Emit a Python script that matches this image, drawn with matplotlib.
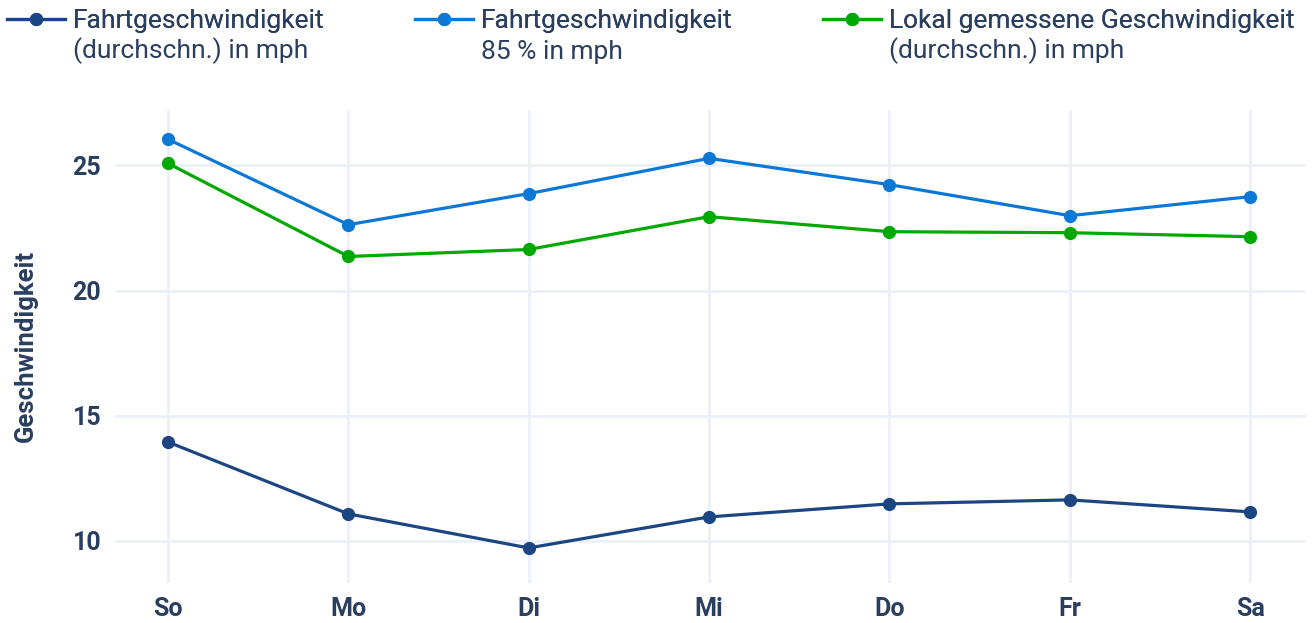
import matplotlib
matplotlib.use("Agg")
import matplotlib.pyplot as plt

plt.rcParams["font.family"] = ["Roboto", "DejaVu Sans"]

# === DATEN ===
tage = ["So", "Mo", "Di", "Mi", "Do", "Fr", "Sa"]
fahrt_durchschn = [13.95, 11.08, 9.72, 10.96, 11.48, 11.64, 11.16]
fahrt_85 = [26.04, 22.63, 23.87, 25.28, 24.23, 22.99, 23.75]
lokal_durchschn = [25.08, 21.36, 21.64, 22.95, 22.35, 22.31, 22.15]

serien = [
    (["Fahrtgeschwindigkeit", "(durchschn.) in mph"], fahrt_durchschn, "#1c4682"),
    (["Fahrtgeschwindigkeit", "85 % in mph"], fahrt_85, "#0b78d6"),
    (["Lokal gemessene Geschwindigkeit", "(durchschn.) in mph"], lokal_durchschn, "#00a900"),
]

TEXT = "#2a3f5f"
GRID = "#ebf0f8"

W, H = 1314, 623
fig = plt.figure(figsize=(W / 100, H / 100), dpi=100)
ax = fig.add_axes([115 / W, 1 - 583 / H, (1306 - 115) / W, (583 - 110) / H])

x = list(range(len(tage)))
linien = []
for zeilen, werte, farbe in serien:
    (ln,) = ax.plot(x, werte, color=farbe, lw=2.3, marker="o", ms=8.5,
                    label=zeilen[0], zorder=3)
    linien.append(ln)

ax.set_xlim(-0.294, 6.31)
ax.set_ylim(8.32, 27.21)
ax.set_xticks(x)
ax.set_xticklabels(tage)
ax.set_yticks([10, 15, 20, 25])
ax.grid(True, color=GRID, lw=2)
ax.set_axisbelow(True)
for s in ax.spines.values():
    s.set_visible(False)
ax.tick_params(length=0, labelsize=18, labelcolor=TEXT, pad=10)
for t in ax.get_xticklabels() + ax.get_yticklabels():
    t.set_fontweight("bold")
ax.set_ylabel("Geschwindigkeit", fontsize=18.5, fontweight="bold", color=TEXT,
              labelpad=25)

# Legende oben, drei Einträge (zweite Zeile als eigener Text)
x_pos = [7, 415, 823]
legenden = []
for ln, xp in zip(linien, x_pos):
    leg = fig.legend(handles=[ln], loc="upper left",
                     bbox_to_anchor=(xp / W, 1 - 9 / H), frameon=False,
                     fontsize=19, handlelength=2.2, handletextpad=0.3,
                     borderaxespad=0, borderpad=0, labelcolor=TEXT)
    fig.add_artist(leg)
    legenden.append(leg)

fig.canvas.draw()
renderer = fig.canvas.get_renderer()
for leg, (zeilen, _, _) in zip(legenden, serien):
    bb = leg.get_texts()[0].get_window_extent(renderer)
    fig.text(bb.x0 / W, (bb.y0 - 31) / H, zeilen[1], fontsize=19,
             color=TEXT, ha="left", va="bottom")

fig.savefig("out.png", dpi=100)
